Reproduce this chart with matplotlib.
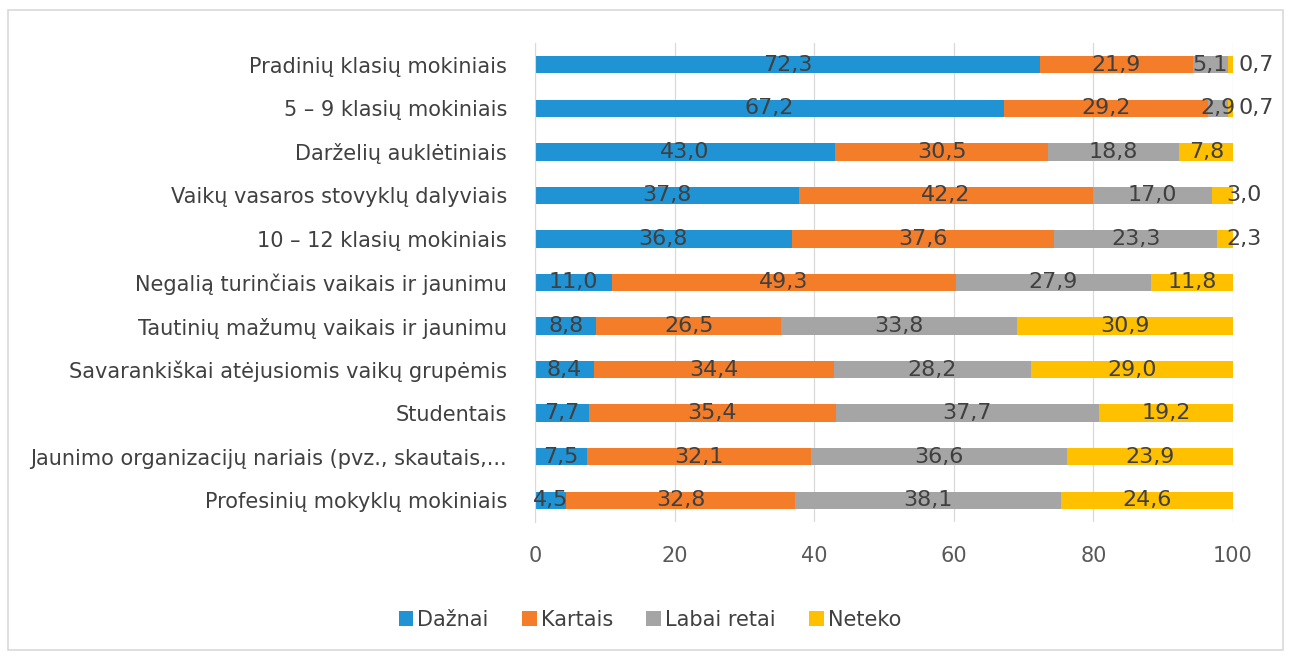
import matplotlib
matplotlib.use("Agg")
import matplotlib.pyplot as plt
from matplotlib.patches import Rectangle
import numpy as np

plt.rcParams['font.family'] = ['DejaVu Sans Condensed', 'DejaVu Sans']

categories = [
    "Pradinių klasių mokiniais",
    "5 – 9 klasių mokiniais",
    "Darželių auklėtiniais",
    "Vaikų vasaros stovyklų dalyviais",
    "10 – 12 klasių mokiniais",
    "Negalią turinčiais vaikais ir jaunimu",
    "Tautinių mažumų vaikais ir jaunimu",
    "Savarankiškai atėjusiomis vaikų grupėmis",
    "Studentais",
    "Jaunimo organizacijų nariais (pvz., skautais,...",
    "Profesinių mokyklų mokiniais",
]
daznai = [72.3, 67.2, 43.0, 37.8, 36.8, 11.0, 8.8, 8.4, 7.7, 7.5, 4.5]
kartais = [21.9, 29.2, 30.5, 42.2, 37.6, 49.3, 26.5, 34.4, 35.4, 32.1, 32.8]
labai_retai = [5.1, 2.9, 18.8, 17.0, 23.3, 27.9, 33.8, 28.2, 37.7, 36.6, 38.1]
neteko = [0.7, 0.7, 7.8, 3.0, 2.3, 11.8, 30.9, 29.0, 19.2, 23.9, 24.6]
series_names = ["Dažnai", "Kartais", "Labai retai", "Neteko"]
colors = ["#1F93D4", "#F47D2A", "#A5A5A5", "#FFC000"]
xticks = [0, 20, 40, 60, 80, 100]

fig = plt.figure(figsize=(12.91, 6.57), dpi=100)
fig.patches.append(Rectangle((8/1291, 1-650/657), 1275/1291, 640/657,
                             transform=fig.transFigure, fill=False,
                             edgecolor="#D9D9D9", linewidth=1.2))
ax = fig.add_axes([535/1291, 1-522/657, 698/1291, 479/657])

y = np.arange(len(categories))
left = np.zeros(len(categories))
all_series = [daznai, kartais, labai_retai, neteko]
for si, (vals, name, col) in enumerate(zip(all_series, series_names, colors)):
    vals = np.array(vals)
    ax.barh(y, vals, left=left, height=0.40, color=col, label=name, zorder=2)
    for yi, (l, v) in enumerate(zip(left, vals)):
        txt = f"{v:.1f}".replace(".", ",")
        if si == 3 and v < 4:
            xpos = 100.8 if v < 1 else 99.0
            ax.text(xpos, yi, txt, ha="left", va="center", fontsize=16,
                    color="#404040", zorder=3)
        else:
            ax.text(l + v / 2, yi, txt, ha="center", va="center", fontsize=16,
                    color="#404040", zorder=3)
    left = left + vals

ax.set_xlim(0, 100)
ax.set_ylim(len(categories) - 0.5, -0.5)
ax.set_yticks(y)
ax.set_yticklabels(categories, fontsize=15, color="#404040")
ax.set_xticks(xticks)
ax.set_xticklabels([str(t) for t in xticks], fontsize=15, color="#595959")
ax.tick_params(axis="both", length=0)
ax.tick_params(axis="y", pad=20)
ax.tick_params(axis="x", pad=17)
for s in ["top", "right", "bottom"]:
    ax.spines[s].set_visible(False)
ax.spines["left"].set_color("#D9D9D9")
ax.xaxis.grid(True, color="#D9D9D9", linewidth=0.9, zorder=0)
ax.set_axisbelow(True)

handles, labels = ax.get_legend_handles_labels()
fig.legend(handles, labels, loc="center", bbox_to_anchor=(650/1291, 1-620/657),
           ncol=4, frameon=False, fontsize=15, handlelength=0.7, handleheight=0.7,
           handletextpad=0.2, columnspacing=1.6, labelcolor="#404040")

fig.savefig("out.png", dpi=100)
